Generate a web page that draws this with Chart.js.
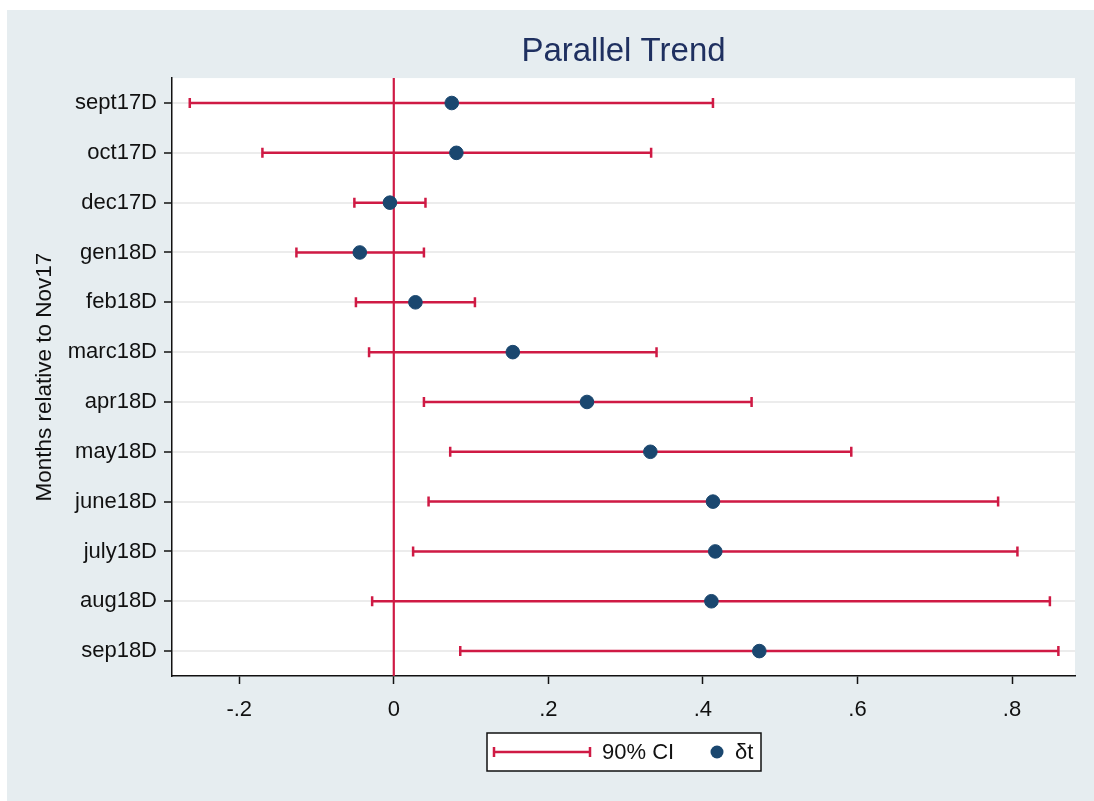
<!DOCTYPE html>
<html>
<head>
<meta charset="utf-8">
<script src="https://cdn.jsdelivr.net/npm/chart.js@4"></script>
<style>
  body { margin: 0; background: #fff; }
  canvas { display: block; }
</style>
</head>
<body>
<canvas id="trendChart" width="1094" height="801"></canvas>
<script>
const categories = ['sept17D', 'oct17D', 'dec17D', 'gen18D', 'feb18D', 'marc18D',
  'apr18D', 'may18D', 'june18D', 'july18D', 'aug18D', 'sep18D'];
const estimates = [0.075, 0.081, -0.005, -0.044, 0.028, 0.154, 0.250, 0.332, 0.413, 0.416, 0.411, 0.473];
const ciLower = [-0.264, -0.170, -0.051, -0.126, -0.049, -0.032, 0.039, 0.073, 0.045, 0.025, -0.028, 0.086];
const ciUpper = [0.413, 0.333, 0.041, 0.039, 0.105, 0.340, 0.463, 0.592, 0.782, 0.807, 0.849, 0.860];
const xTicks = [-0.2, 0, 0.2, 0.4, 0.6, 0.8];
const xTickLabels = ['-.2', '0', '.2', '.4', '.6', '.8'];
const refLine = 0;

const RED = '#cf1a44';
const NAVY = '#1a476f';
const FONT = "'Liberation Sans', Arial, sans-serif";

// background, plot area, reference line and CI bars
const backdrop = {
  id: 'backdrop',
  beforeDraw(chart) {
    const { ctx, chartArea: a } = chart;
    ctx.save();
    ctx.fillStyle = '#fff';
    ctx.fillRect(0, 0, chart.width, chart.height);
    ctx.fillStyle = '#e6edf0';
    ctx.fillRect(7, 10, chart.width - 7, chart.height - 10);
    ctx.fillStyle = '#fff';
    ctx.fillRect(a.left, a.top, a.right - a.left, a.bottom - a.top);
    ctx.restore();
  },
  beforeDatasetsDraw(chart) {
    const { ctx, chartArea: a, scales: { x, y } } = chart;
    ctx.save();
    ctx.strokeStyle = RED;
    // xline at 0
    ctx.lineWidth = 2.2;
    const x0 = x.getPixelForValue(refLine);
    ctx.beginPath();
    ctx.moveTo(x0, a.top);
    ctx.lineTo(x0, a.bottom);
    ctx.stroke();
    // confidence intervals
    ctx.lineWidth = 2.5;
    categories.forEach((c, i) => {
      const py = y.getPixelForValue(i);
      const x1 = x.getPixelForValue(ciLower[i]);
      const x2 = x.getPixelForValue(ciUpper[i]);
      ctx.beginPath();
      ctx.moveTo(x1, py); ctx.lineTo(x2, py);
      ctx.moveTo(x1, py - 5); ctx.lineTo(x1, py + 5);
      ctx.moveTo(x2, py - 5); ctx.lineTo(x2, py + 5);
      ctx.stroke();
    });
    ctx.restore();
  },
  afterDraw(chart) {
    // Stata style legend box under the axis
    const { ctx, chartArea: a } = chart;
    const w = 274, h = 38;
    const left = Math.round((a.left + a.right) / 2 - w / 2);
    const top = a.bottom + 57;
    const mid = top + h / 2;
    ctx.save();
    ctx.fillStyle = '#fff';
    ctx.fillRect(left, top, w, h);
    ctx.strokeStyle = '#111';
    ctx.lineWidth = 1.5;
    ctx.strokeRect(left, top, w, h);
    ctx.strokeStyle = RED;
    ctx.lineWidth = 2.5;
    ctx.beginPath();
    ctx.moveTo(left + 7, mid); ctx.lineTo(left + 103, mid);
    ctx.moveTo(left + 7, mid - 5); ctx.lineTo(left + 7, mid + 5);
    ctx.moveTo(left + 103, mid - 5); ctx.lineTo(left + 103, mid + 5);
    ctx.stroke();
    ctx.fillStyle = '#111';
    ctx.font = '22px ' + FONT;
    ctx.textBaseline = 'middle';
    ctx.textAlign = 'left';
    ctx.fillText('90% CI', left + 115, mid + 1);
    ctx.fillText('δt', left + 248, mid + 1);
    ctx.fillStyle = NAVY;
    ctx.beginPath();
    ctx.arc(left + 230, mid, 6.5, 0, Math.PI * 2);
    ctx.fill();
    ctx.restore();
  }
};

const ctx = document.getElementById('trendChart').getContext('2d');
const trendChart = new Chart(ctx, {
  type: 'scatter',
  data: {
    datasets: [{
      label: 'δt',
      data: estimates.map((v, i) => ({ x: v, y: categories[i] })),
      backgroundColor: NAVY,
      borderColor: NAVY,
      pointRadius: 6.8,
      pointHoverRadius: 6.8
    }]
  },
  options: {
    responsive: false,
    animation: false,
    layout: { padding: { left: 0, right: 19, top: 0, bottom: 0 } },
    scales: {
      x: {
        type: 'linear',
        min: -0.287,
        max: 0.8815,
        afterBuildTicks: s => { s.ticks = xTicks.map(v => ({ value: v })); },
        afterFit: s => { s.height = 125; },
        border: { display: true, color: '#111', width: 1.5 },
        grid: { drawOnChartArea: false, drawTicks: true, tickLength: 8, tickColor: '#111', tickWidth: 1.5 },
        ticks: {
          color: '#111',
          font: { family: FONT, size: 22 },
          padding: 13,
          maxRotation: 0,
          callback: (v, i) => xTickLabels[i]
        }
      },
      y: {
        type: 'category',
        labels: categories,
        offset: true,
        afterFit: s => { s.width = 172; },
        border: { display: true, color: '#111', width: 1.5 },
        grid: { offset: false, color: '#ececec', lineWidth: 2, drawTicks: true, tickLength: 8, tickColor: '#111', tickWidth: 1.5 },
        ticks: { color: '#111', font: { family: FONT, size: 22 }, padding: 7 },
        title: {
          display: true,
          text: 'Months relative to Nov17',
          color: '#111',
          font: { family: FONT, size: 22.5 },
          padding: { top: 31, bottom: 0 }
        }
      }
    },
    plugins: {
      legend: { display: false },
      tooltip: { enabled: false },
      title: {
        display: true,
        fullSize: false,
        text: 'Parallel Trend',
        color: '#1f3060',
        font: { family: FONT, size: 33, weight: 'normal' },
        padding: { top: 32, bottom: 6.5 }
      }
    }
  },
  plugins: [backdrop]
});
</script>
</body>
</html>
